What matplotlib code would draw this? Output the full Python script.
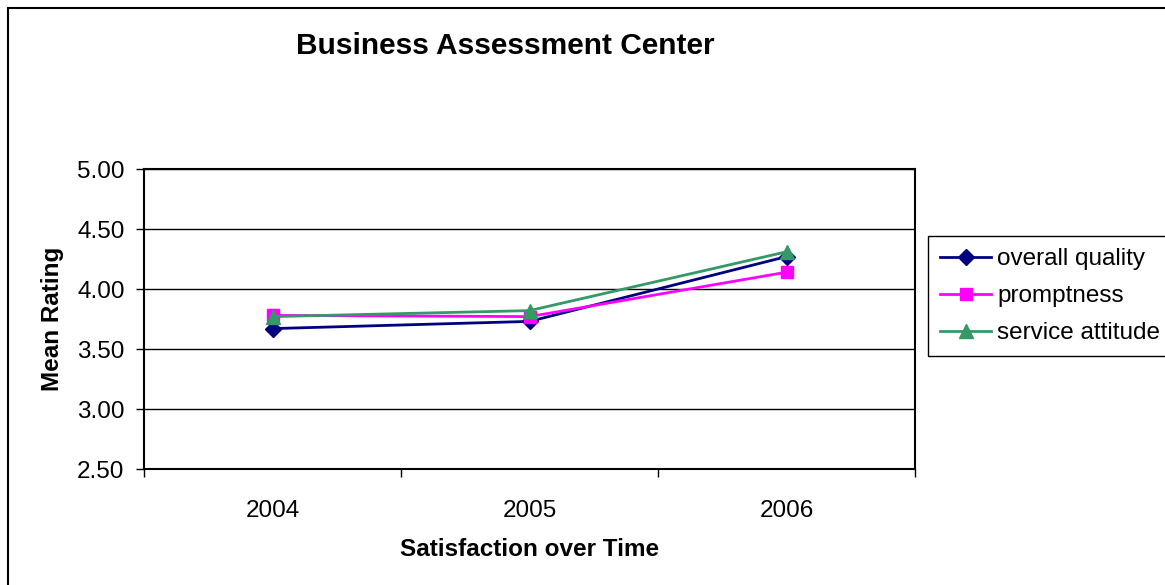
import matplotlib.pyplot as plt
from matplotlib.patches import Rectangle
from matplotlib.ticker import FixedLocator, NullFormatter

years = ['2004', '2005', '2006']
overall_quality = [3.67, 3.73, 4.27]
promptness = [3.78, 3.77, 4.14]
service_attitude = [3.77, 3.82, 4.31]
yticks = [2.5, 3.0, 3.5, 4.0, 4.5, 5.0]

plt.rcParams['font.family'] = ['Liberation Sans', 'DejaVu Sans']

fig = plt.figure(figsize=(11.65, 5.85), dpi=100)
W, H = 1165, 585
# chart area border
fig.patches.append(Rectangle((8 / W, -0.1), 1.2, 1 - 8 / H + 0.1, transform=fig.transFigure,
                             fill=False, edgecolor='black', linewidth=1.5))

ax = fig.add_axes([144 / W, 1 - 469 / H, (915 - 144) / W, (469 - 169) / H])
x = list(range(len(years)))
ax.plot(x, overall_quality, color='#000080', marker='D', markersize=8, linewidth=2, label='overall quality')
ax.plot(x, promptness, color='#FF00FF', marker='s', markersize=9, linewidth=2, label='promptness')
ax.plot(x, service_attitude, color='#339966', marker='^', markersize=10, linewidth=2, label='service attitude')

ax.set_xlim(-0.5, 2.5)
ax.set_ylim(2.5, 5.0)
ax.set_yticks(yticks)
ax.set_yticklabels([f'{v:.2f}' for v in yticks], fontsize=17.5)
ax.set_xticks(x)
ax.set_xticklabels(years, fontsize=17.5)
ax.xaxis.set_minor_locator(FixedLocator([-0.5, 0.5, 1.5, 2.5]))
ax.xaxis.set_minor_formatter(NullFormatter())
ax.tick_params(axis='x', which='major', length=0, pad=22)
ax.tick_params(axis='x', which='minor', length=6, width=1, direction='out')
ax.tick_params(axis='y', length=6, width=1, direction='out', pad=8)
ax.grid(axis='y', color='black', linewidth=1)
ax.set_axisbelow(True)
for s in ax.spines.values():
    s.set_linewidth(1.5)

ax.set_ylabel('Mean Rating', fontsize=17.5, fontweight='bold', va='center')
ax.yaxis.set_label_coords((53 - 144) / 771, 0.5)
ax.set_xlabel('Satisfaction over Time', fontsize=17.5, fontweight='bold', va='center')
ax.xaxis.set_label_coords(0.5, (469 - 550) / 300)
fig.text(505 / W, 1 - 46 / H, 'Business Assessment Center', fontsize=21.5, fontweight='bold',
         ha='center', va='center')

leg = ax.legend(loc='upper left', bbox_to_anchor=(928 / W, 1 - 236 / H), bbox_transform=fig.transFigure,
                fontsize=17.5, frameon=True, fancybox=False, edgecolor='black', framealpha=1,
                handlelength=2.1, handletextpad=0.25, borderpad=0.5, labelspacing=0.62,
                borderaxespad=0)
leg.get_frame().set_linewidth(1)

fig.savefig('out.png', dpi=100)
